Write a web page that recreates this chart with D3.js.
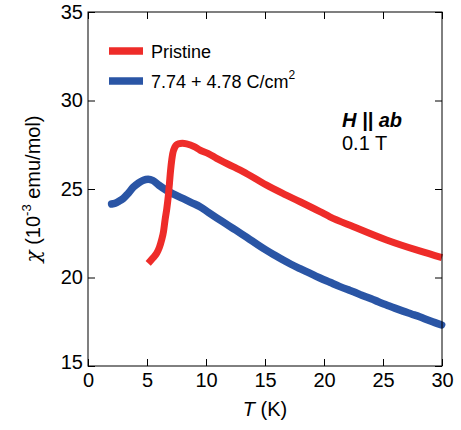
<!DOCTYPE html>
<html>
<head>
<meta charset="utf-8">
<script src="https://cdn.jsdelivr.net/npm/d3@7"></script>
<style>
  html, body { margin: 0; padding: 0; background: #fff; }
  svg { display: block; }
  text { font-family: "Liberation Sans", Arial, sans-serif; fill: #000; }
</style>
</head>
<body>
<svg id="chart" width="461" height="430"></svg>
<script>
// ---- data ----
const pristineT = [5.1, 5.5, 5.82, 6.05, 6.24, 6.4, 6.53, 6.68, 6.8, 6.9, 7.0, 7.1, 7.18, 7.35, 7.65, 8.0, 8.36, 9.0, 9.49, 10.2, 10.9, 12.3, 13.5, 15.1, 16.5, 17.97, 19.66, 20.5, 22.5, 25.3, 28.1, 30.0];
const pristineChi = [20.8, 21.1, 21.37, 21.7, 22.12, 22.6, 23.25, 23.9, 24.57, 25.3, 26.07, 26.65, 27.0, 27.35, 27.55, 27.58, 27.55, 27.4, 27.2, 27.0, 26.73, 26.26, 25.85, 25.23, 24.75, 24.28, 23.72, 23.43, 22.87, 22.12, 21.5, 21.12];

const irradT = [2.0, 2.3, 2.6, 3.0, 3.4, 3.84, 4.3, 4.7, 5.1, 5.5, 6.0, 6.67, 7.3, 8.08, 8.8, 9.49, 10.2, 10.9, 11.6, 12.3, 13.0, 13.7, 14.4, 15.1, 15.8, 16.5, 17.2, 17.97, 18.7, 19.3, 19.66, 20.5, 21.3, 22.0, 22.5, 23.2, 24.0, 24.6, 25.3, 26.0, 26.7, 27.4, 28.1, 28.8, 29.4, 29.97];
const irradChi = [24.15, 24.2, 24.3, 24.47, 24.75, 25.1, 25.35, 25.5, 25.55, 25.48, 25.22, 24.92, 24.7, 24.45, 24.22, 24.0, 23.68, 23.37, 23.07, 22.77, 22.47, 22.16, 21.85, 21.55, 21.27, 21.0, 20.75, 20.5, 20.27, 20.08, 19.97, 19.73, 19.5, 19.32, 19.2, 19.0, 18.8, 18.63, 18.45, 18.27, 18.1, 17.94, 17.78, 17.6, 17.45, 17.32];

const seriesNames = ["Pristine", "7.74 + 4.78 C/cm"];
const seriesColors = ["#ee2c29", "#2a55a5"];
const xTicks = [0, 5, 10, 15, 20, 25, 30];
const yTicks = [15, 20, 25, 30, 35];

// ---- layout ----
const svg = d3.select("#chart");
const L = 88, R = 442, T = 12, B = 366;
const x = d3.scaleLinear().domain([0, 30]).range([L, R]);
const y = d3.scaleLinear().domain([15, 35]).range([B, T]);

// curves
const line = d3.line().x(d => x(d[0])).y(d => y(d[1])).curve(d3.curveMonotoneX);
const pristine = pristineT.map((t, i) => [t, pristineChi[i]]);
const irrad = irradT.map((t, i) => [t, irradChi[i]]);

svg.append("path").datum(irrad).attr("d", line)
  .attr("fill", "none").attr("stroke", seriesColors[1]).attr("stroke-width", 7.5)
  .attr("stroke-linecap", "round").attr("stroke-linejoin", "round");
svg.append("path").datum(pristine).attr("d", line)
  .attr("fill", "none").attr("stroke", seriesColors[0]).attr("stroke-width", 7)
  .attr("stroke-linecap", "butt").attr("stroke-linejoin", "round");

// axes
const fs = "20px";
const gx = svg.append("g").attr("transform", `translate(0,${B})`)
  .call(d3.axisBottom(x).tickValues(xTicks).tickSizeInner(-7).tickSizeOuter(0).tickPadding(7));
const gy = svg.append("g").attr("transform", `translate(${L},0)`)
  .call(d3.axisLeft(y).tickValues(yTicks).tickSizeInner(-7).tickSizeOuter(0).tickPadding(5));
const gt = svg.append("g").attr("transform", `translate(0,${T})`)
  .call(d3.axisTop(x).tickValues(xTicks).tickSizeInner(-7).tickSizeOuter(0).tickFormat(""));
const gr = svg.append("g").attr("transform", `translate(${R},0)`)
  .call(d3.axisRight(y).tickValues(yTicks).tickSizeInner(-7).tickSizeOuter(0).tickFormat(""));
[gx, gy, gt, gr].forEach(g => {
  g.select(".domain").remove();
  g.selectAll("line").attr("stroke", "#000").attr("stroke-width", 1);
  g.selectAll("text").style("font-size", fs).style("font-family", "'Liberation Sans', Arial, sans-serif").attr("fill", "#000");
});
gy.selectAll(".tick").filter(d => d === 15).select("text").attr("dy", "0.1em");

svg.append("rect").attr("x", L).attr("y", T).attr("width", R - L).attr("height", B - T)
  .attr("fill", "none").attr("stroke", "#000").attr("stroke-width", 1);

// axis titles
svg.append("text").attr("x", (L + R) / 2 - 0).attr("y", 416).attr("text-anchor", "middle")
  .style("font-size", fs)
  .call(t => {
    t.append("tspan").attr("font-style", "italic").text("T");
    t.append("tspan").text(" (K)");
  });

svg.append("text").attr("transform", `translate(40,${(T + B) / 2}) rotate(-90)`)
  .attr("text-anchor", "middle").style("font-size", fs)
  .call(t => {
    t.append("tspan").attr("font-style", "italic").attr("font-family", "'DejaVu Serif', serif").text("χ");
    t.append("tspan").text(" (10");
    t.append("tspan").attr("dy", -9).style("font-size", "13px").text("-3");
    t.append("tspan").attr("dy", 9).text(" emu/mol)");
  });

// legend
seriesNames.forEach((name, i) => {
  const ly = 51 + i * 30;
  svg.append("line").attr("x1", 109).attr("x2", 143).attr("y1", ly).attr("y2", ly)
    .attr("stroke", seriesColors[i]).attr("stroke-width", 7.5);
  const tx = svg.append("text").attr("x", 151).attr("y", ly + 6.5).style("font-size", "18px");
  tx.append("tspan").text(name);
  if (i === 1) tx.append("tspan").attr("dy", -9).style("font-size", "12px").text("2");
});

// annotation
svg.append("text").attr("x", 342).attr("y", 127).style("font-size", "20px")
  .attr("font-weight", "bold").attr("font-style", "italic").text("H || ab");
svg.append("text").attr("x", 342).attr("y", 150).style("font-size", "20px").text("0.1 T");
</script>
</body>
</html>
